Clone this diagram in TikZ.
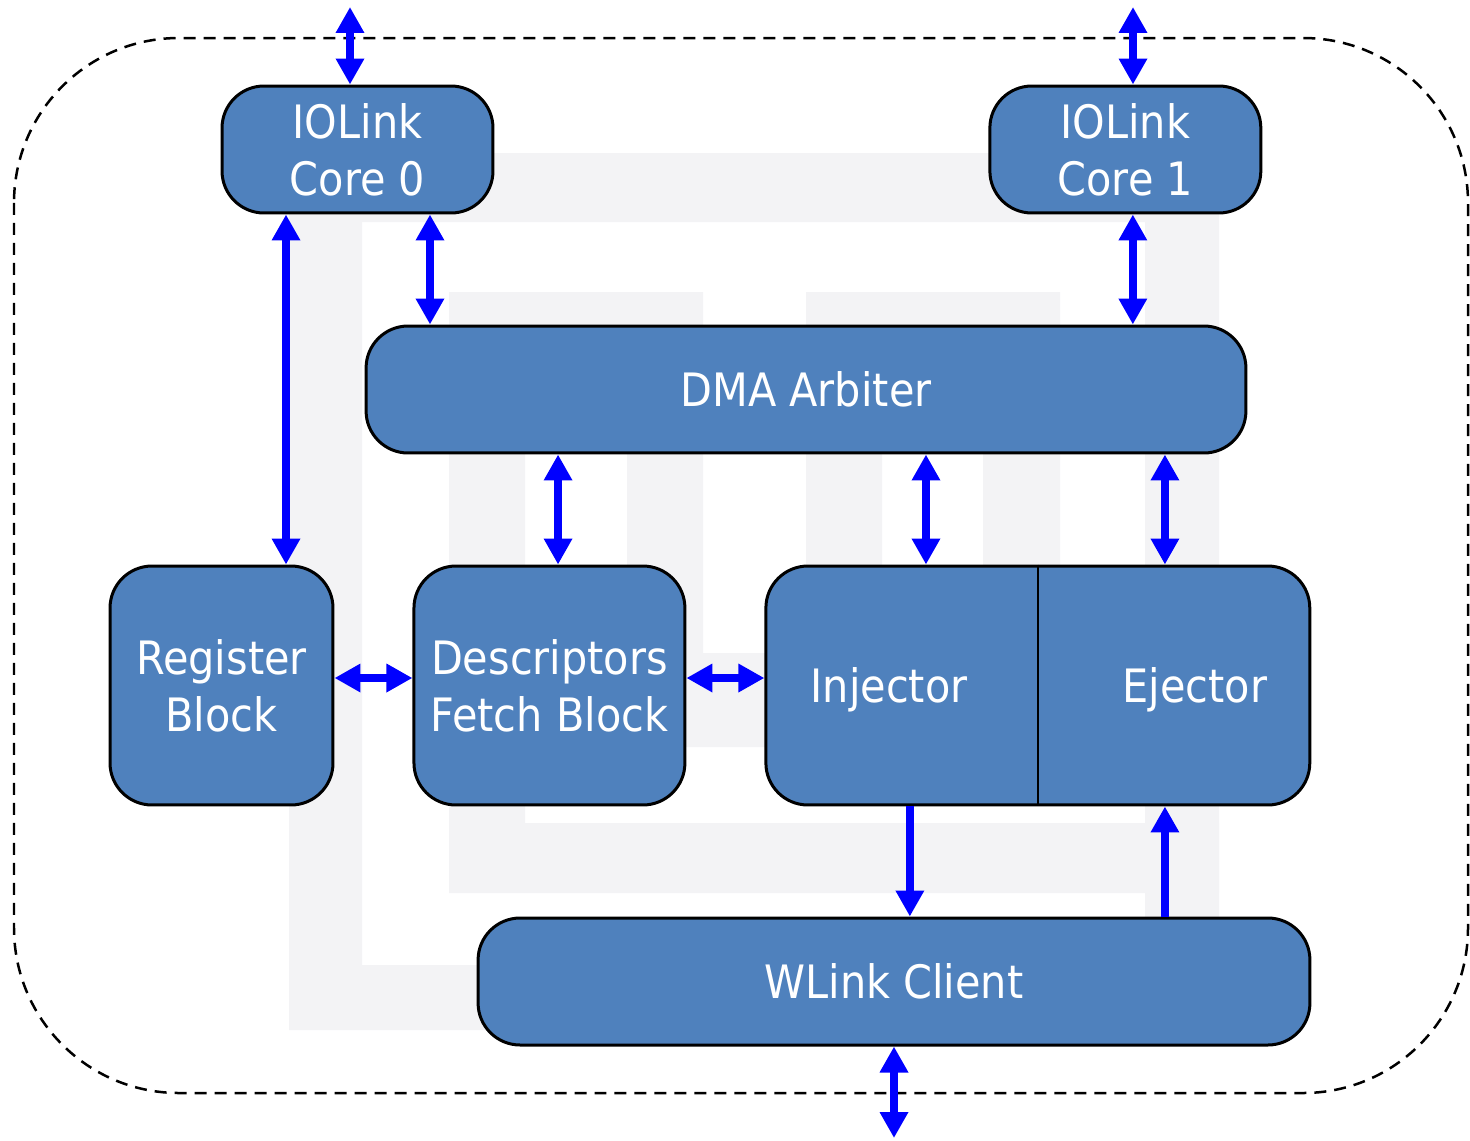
\documentclass[tikz,border=0pt]{standalone}
\usepackage{fontspec}
\newfontfamily\blockfont{DejaVu Sans}[FakeStretch=0.9]
\usetikzlibrary{arrows.meta, positioning}
\definecolor{blockblue}{RGB}{79,129,189}
\definecolor{linkblue}{RGB}{0,0,255}
\definecolor{markgray}{RGB}{243,243,245}
\tikzset{on grid,
         >= {Triangle[length = 0.52cm, width = 0.54cm]},
         block/.style = {draw, line width = 0.06cm, fill = blockblue,
                         rounded corners = 0.84cm, text = white,
                         align = center, inner sep = 0pt,
                         font = \blockfont\fontsize{26.2}{32.4}\selectfont},
         label text/.style = {text = white, inner sep = 0pt,
                         font = \blockfont\fontsize{26.2}{32.4}\selectfont},
         link/.style = {draw = linkblue, line width = 0.15cm},
         boundary/.style = {dash pattern = on 0.24cm off 0.16cm,
                         line width = 0.05cm}}

\begin{document}
\begin{tikzpicture}[x = 0.02cm, y = -0.02cm]
        \useasboundingbox (0,0) rectangle (1470,1140);

        % faint logo behind the blocks
        \fill[markgray, even odd rule] (289,153) rectangle (1219,1030)
                                       (362,222) rectangle (1145,965);
        \fill[markgray] (449,292) rectangle (525,893)
                        (449,292) rectangle (703,370)
                        (627,292) rectangle (703,747)
                        (806,292) rectangle (1060,370)
                        (806,292) rectangle (882,747)
                        (983,292) rectangle (1060,747)
                        (449,653) rectangle (1060,747)
                        (449,823) rectangle (1219,893);

        % module boundary
        \draw[boundary, rounded corners = 3.3cm] (14,38) rectangle (1468,1093);

        \node[block, minimum width = 5.42cm, minimum height = 2.54cm]
              (core0) at (357.5,149.5)       {IOLink\\Core 0};
        \node[block, minimum width = 5.42cm, minimum height = 2.54cm]
              (core1) [right = 15.36cm of core0] {IOLink\\Core 1};
        \node[block, minimum width = 17.6cm, minimum height = 2.54cm]
              (dma)   at (806,389.5)         {DMA Arbiter};
        \node[block, minimum width = 4.46cm, minimum height = 4.78cm]
              (reg)   at (221.5,685.5)       {Register\\Block};
        \node[block, minimum width = 5.42cm, minimum height = 4.78cm]
              (desc)  [right = 6.56cm of reg] {Descriptors\\Fetch Block};
        \node[block, minimum width = 10.88cm, minimum height = 4.78cm]
              (injej) [right = 9.77cm of desc] {};
        \node[block, minimum width = 16.64cm, minimum height = 2.54cm]
              (wlink) at (894,981.5)         {WLink Client};

        \draw[line width = 0.04cm] (injej.north) -- (injej.south);
        \node[label text] (inj) at (889,690)  {Injector};
        \node[label text] (ej)  at (1195,690) {Ejector};

        \coordinate (top0) at (350,7);
        \coordinate (top1) at (1133,7);
        \coordinate (bot)  at (894,1138);

        \draw[link, <->] (top0) -- (top0 |- core0.north);
        \draw[link, <->] (top1) -- (top1 |- core1.north);
        \draw[link, <->] (wlink.south) -- (bot);

        \draw[link, <->] ([xshift = -1.43cm]core0.south) coordinate (c)  -- (c |- reg.north);
        \draw[link, <->] ([xshift = 1.45cm]core0.south)  coordinate (c)  -- (c |- dma.north);
        \draw[link, <->] ([xshift = 0.15cm]core1.south)  coordinate (c)  -- (c |- dma.north);

        \draw[link, <->] ([xshift = -4.96cm]dma.south) coordinate (c) -- (c |- desc.north);
        \draw[link, <->] ([xshift = 2.4cm]dma.south)   coordinate (c) -- (c |- injej.north);
        \draw[link, <->] ([xshift = 7.18cm]dma.south)  coordinate (c) -- (c |- injej.north);

        \draw[link, <->] ([yshift = 0.15cm]reg.east)  coordinate (c) -- (c -| desc.west);
        \draw[link, <->] ([yshift = 0.15cm]desc.east) coordinate (c) -- (c -| injej.west);

        \draw[link, ->] ([xshift = -2.56cm]injej.south) coordinate (c) -- (c |- wlink.north);
        \draw[link, ->] ([xshift = 7.18cm]dma.south |- wlink.north) coordinate (c) -- (c |- injej.south);
\end{tikzpicture}
\end{document}
